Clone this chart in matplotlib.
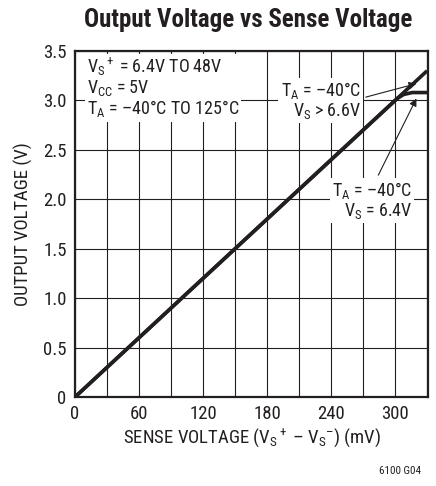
import numpy as np
import matplotlib
matplotlib.use("Agg")
import matplotlib.pyplot as plt
from matplotlib import font_manager

# data
sense_mv = [0, 330]
vout_hi = [0, 3.3]           # TA = -40C, VS > 6.6V
sense_64 = [0, 296, 302, 308, 316, 331]
vout_64 = [0, 2.96, 3.02, 3.06, 3.08, 3.08]  # TA = -40C, VS = 6.4V

x_ticks = [0, 60, 120, 180, 240, 300]
y_ticks = [0, 0.5, 1.0, 1.5, 2.0, 2.5, 3.0, 3.5]
y_tick_labels = ["0", "0.5", "1.0", "1.5", "2.0", "2.5", "3.0", "3.5"]


def pick_font(names):
    # first narrow-ish family that is really installed
    for n in names:
        try:
            font_manager.findfont(font_manager.FontProperties(family=n), fallback_to_default=False)
            return n
        except ValueError:
            pass
    return 'DejaVu Sans'


fam = pick_font(['Roboto Condensed', 'Liberation Sans Narrow', 'Arial Narrow', 'Roboto', 'Liberation Sans'])
plt.rcParams['font.family'] = [fam, 'DejaVu Sans']
plt.rcParams['mathtext.fontset'] = 'custom'
plt.rcParams['mathtext.rm'] = fam
plt.rcParams['mathtext.it'] = fam
plt.rcParams['mathtext.bf'] = fam + ':bold'

ink = '#231f20'
fs = 13

fig = plt.figure(figsize=(4.36, 4.86), dpi=100)
ax = fig.add_axes([0.172, 0.183, 0.810, 0.712])

ax.plot(sense_mv, vout_hi, color=ink, lw=2.6, solid_capstyle='butt', zorder=3)
ax.plot(sense_64, vout_64, color=ink, lw=2.6, solid_capstyle='butt', zorder=3)

ax.set_xlim(0, 331)
ax.set_ylim(0, 3.5)
ax.set_xticks(x_ticks)
ax.set_xticks(np.arange(30, 331, 60), minor=True)
ax.set_yticks(y_ticks)
ax.set_yticklabels(y_tick_labels)
ax.tick_params(which='both', length=0, labelsize=13.5, colors=ink, pad=6)
ax.grid(True, which='both', color=ink, lw=0.8)
ax.set_axisbelow(True)
for s in ax.spines.values():
    s.set_linewidth(1.6)
    s.set_color(ink)

ax.set_xlabel(r"SENSE VOLTAGE (V$_\mathregular{S}$$^+$ – V$_\mathregular{S}$$^{–}$) (mV)",
              fontsize=13.5, color=ink, labelpad=2)
ax.set_ylabel("OUTPUT VOLTAGE (V)", fontsize=13.5, color=ink, labelpad=7)
fig.text(0.569, 0.958, "Output Voltage vs Sense Voltage", ha='center', va='center',
         fontsize=18, fontweight='bold', color=ink)
fig.text(0.965, 0.02, "6100 G04", ha='right', va='bottom', fontsize=8, color=ink)

box = dict(facecolor='white', edgecolor='none', pad=1.5)
ax.text(11, 3.45, "V$_\\mathregular{S}$$^+$ = 6.4V TO 48V\nV$_\\mathregular{CC}$ = 5V\nT$_\\mathregular{A}$ = –40°C TO 125°C",
        ha='left', va='top', fontsize=fs, color=ink, linespacing=1.0, bbox=box, zorder=4)

ax.annotate("T$_\\mathregular{A}$ = –40°C\nV$_\\mathregular{S}$ > 6.6V", xy=(320, 3.17), xytext=(268, 3.0),
            ha='right', va='center', multialignment='right', fontsize=fs, color=ink,
            linespacing=1.0, bbox=box, zorder=4,
            arrowprops=dict(arrowstyle='-|>', color=ink, lw=0.8, mutation_scale=11,
                            shrinkA=2, shrinkB=0, relpos=(1.0, 0.55)))
ax.annotate("T$_\\mathregular{A}$ = –40°C\nV$_\\mathregular{S}$ = 6.4V", xy=(320, 3.02), xytext=(316, 1.99),
            ha='right', va='center', multialignment='right', fontsize=fs, color=ink,
            linespacing=1.0, bbox=box, zorder=4,
            arrowprops=dict(arrowstyle='-|>', color=ink, lw=0.8, mutation_scale=11,
                            shrinkA=2, shrinkB=0, relpos=(0.55, 1.0)))

fig.savefig("out.png", dpi=100)
